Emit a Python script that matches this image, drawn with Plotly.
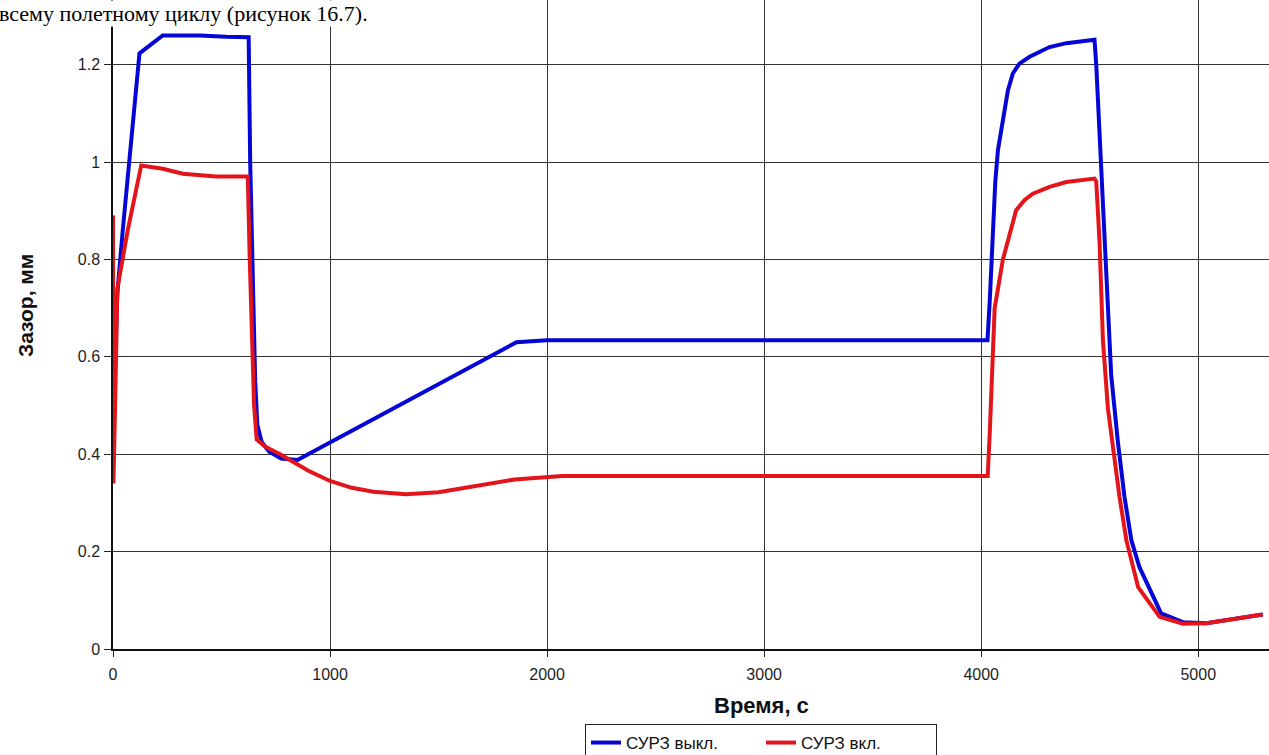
import plotly.graph_objects as go

# Время полётного цикла, с, и радиальный зазор, мм
t_off = [0, 8, 20, 45, 122, 229, 400, 521, 625, 632, 645, 655, 665, 685, 720, 775, 850,
         1859, 2000, 4029, 4040, 4053, 4065, 4077, 4100, 4123, 4146, 4176, 4223, 4315, 4392,
         4522, 4530, 4553, 4576, 4599, 4630, 4660, 4692, 4729, 4829, 4929, 5037, 5297]
gap_off = [0.46, 0.60, 0.73, 0.86, 1.223, 1.260, 1.260, 1.257, 1.256, 1.0, 0.75, 0.55, 0.46,
           0.425, 0.405, 0.391, 0.388, 0.630, 0.634, 0.634, 0.72, 0.86, 0.96, 1.024, 1.092,
           1.147, 1.182, 1.202, 1.216, 1.236, 1.244, 1.251, 1.20, 0.976, 0.769, 0.562, 0.424,
           0.313, 0.223, 0.168, 0.073, 0.055, 0.053, 0.071]

t_on = [0, 2, 12, 20, 68, 130, 229, 322, 475, 621, 630, 640, 650, 662, 700, 770, 831, 900,
        1000, 1100, 1200, 1350, 1500, 1650, 1850, 2070, 4030, 4040, 4062, 4100, 4138, 4161,
        4200, 4238, 4315, 4392, 4522, 4530, 4545, 4561, 4584, 4614, 4637, 4669, 4723, 4822,
        4929, 5037, 5297]
gap_on = [0.89, 0.34, 0.55, 0.74, 0.86, 0.993, 0.986, 0.976, 0.970, 0.970, 0.80, 0.62, 0.50,
          0.43, 0.416, 0.400, 0.384, 0.366, 0.345, 0.331, 0.323, 0.318, 0.322, 0.333, 0.348,
          0.355, 0.355, 0.45, 0.70, 0.80, 0.86, 0.901, 0.922, 0.935, 0.949, 0.959, 0.966,
          0.96, 0.838, 0.632, 0.493, 0.39, 0.313, 0.223, 0.127, 0.066, 0.052, 0.053, 0.071]

series_names = ["СУРЗ выкл.", "СУРЗ вкл."]
x_title = "Время, с"
y_title = "Зазор, мм"
caption = "всему полетному циклу (рисунок 16.7)."

W, H = 1269, 755
ML, MB = 113, 106
px_per_s = 0.21705      # горизонтальный масштаб, пикс. на 1 с
px_per_mm = 487.0       # вертикальный масштаб, пикс. на 1 мм
plot_w = W - ML
plot_h = H - MB

fig = go.Figure()
fig.add_trace(go.Scatter(x=t_off, y=gap_off, mode="lines", name=series_names[0],
                         line=dict(color="#0505d6", width=4)))
fig.add_trace(go.Scatter(x=t_on, y=gap_on, mode="lines", name=series_names[1],
                         line=dict(color="#e3151b", width=4)))

axis_font = dict(family="Arial", size=16, color="#1e1e1e")
fig.update_xaxes(range=[0, plot_w / px_per_s], tick0=0, dtick=1000,
                 showgrid=True, gridcolor="#333333", gridwidth=1.3,
                 ticks="outside", ticklen=6, tickcolor="#222", tickwidth=1.3,
                 showline=True, linecolor="#111", linewidth=1.5, zeroline=False,
                 tickfont=axis_font, ticklabelstandoff=4, automargin=False)
fig.update_yaxes(range=[0, plot_h / px_per_mm], tick0=0, dtick=0.2,
                 showgrid=True, gridcolor="#333333", gridwidth=1.3,
                 ticks="outside", ticklen=7, tickcolor="#222", tickwidth=1.3,
                 showline=True, linecolor="#111", linewidth=1.5, zeroline=False,
                 tickfont=axis_font, ticklabelstandoff=1, automargin=False)


def px_x(p):
    return (p - ML) / plot_w


def px_y(p):
    return (plot_h - p) / plot_h


fig.add_annotation(text=f"<b>{x_title}</b>", xref="paper", yref="paper",
                   x=px_x(761), y=px_y(705), xanchor="center", yanchor="middle",
                   showarrow=False, font=dict(family="Arial", size=22, color="#111"))
fig.add_annotation(text=f"<b>{y_title}</b>", xref="paper", yref="paper",
                   x=px_x(25), y=px_y(306), xanchor="center", yanchor="middle",
                   textangle=-90, showarrow=False,
                   font=dict(family="Arial", size=21, color="#111"))
fig.add_annotation(text=caption, xref="paper", yref="paper",
                   x=px_x(-2), y=px_y(0), xanchor="left", yanchor="top",
                   showarrow=False, bgcolor="white", borderpad=0,
                   font=dict(family="Liberation Serif", size=22, color="#000"))

fig.update_layout(
    width=W, height=H,
    margin=dict(l=ML, r=0, t=0, b=MB, autoexpand=False),
    paper_bgcolor="white", plot_bgcolor="white",
    showlegend=True,
    legend=dict(orientation="h", x=px_x(761), y=px_y(724), xanchor="center",
                yanchor="top", bordercolor="#222", borderwidth=1, bgcolor="white",
                font=dict(family="Arial", size=17, color="#111"),
                entrywidth=130, tracegroupgap=0),
)

fig.write_html("out.html")
